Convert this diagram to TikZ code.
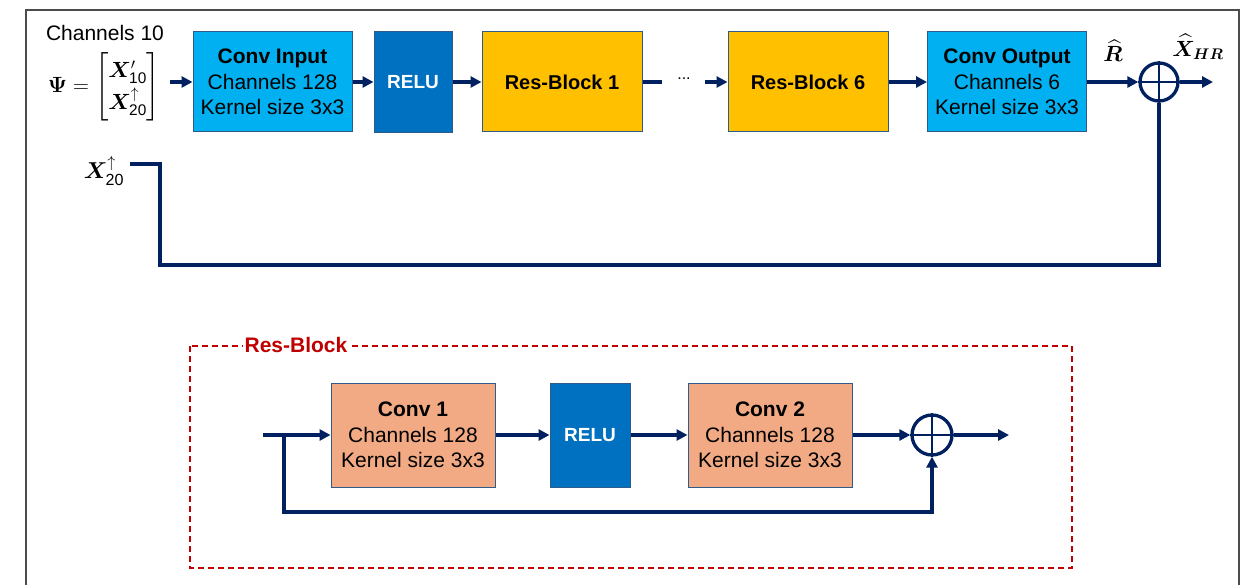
\RequirePackage{fix-cm}
\documentclass[tikz,border=0pt]{standalone}
\usepackage{amsmath,bm}
\usepackage{fontspec}
\setmainfont{Liberation Sans}
\usetikzlibrary{arrows.meta,calc}
\definecolor{lblue}{HTML}{00B0F0}
\definecolor{dblue}{HTML}{0070C0}
\definecolor{yel}{HTML}{FFC000}
\definecolor{salmon}{HTML}{F2AA84}
\definecolor{navy}{HTML}{002060}
\definecolor{bord}{HTML}{2E5C8A}
\definecolor{dred}{HTML}{C00000}
\newcommand\bodyfs{\fontsize{21}{25.5}\selectfont}
\newcommand\mathfs{\fontsize{20}{24}\selectfont}
\tikzset{
  blk/.style={draw=bord, line width=1pt, align=center, font=\bodyfs, inner sep=0pt},
  convbox/.style={blk, fill=lblue, minimum width=159, minimum height=100},
  relubox/.style={blk, fill=dblue, text=white, font=\fontsize{19}{23}\selectfont\bfseries, minimum width=78, minimum height=101},
  resbox/.style={blk, fill=yel, font=\fontsize{20}{24}\selectfont\bfseries, minimum width=160, minimum height=100},
  subconv/.style={blk, fill=salmon, minimum width=164, minimum height=104},
  subrelu/.style={blk, fill=dblue, text=white, font=\fontsize{19}{23}\selectfont\bfseries, minimum width=80, minimum height=104},
  conn/.style={draw=navy, line width=3.3pt},
  arr/.style={conn, -{Triangle[length=11pt,width=11pt]}},
  sumnode/.style={circle, draw=navy, line width=3.3pt, minimum size=38, inner sep=0pt},
  lbl/.style={inner sep=0pt, font=\mathfs},
}
\begin{document}
\begin{tikzpicture}[x=1pt,y=-1pt]
\useasboundingbox (0,0) rectangle (1246,585);
% outer frame
\draw[line width=1.6pt, color=black!70] (26,585) -- (26,10) -- (1239,10) -- (1239,585);

% ---------- top row ----------
\node[inner sep=0pt, font=\bodyfs] (ch10) at (105,33) {Channels 10};
\node[lbl] (psi) at (104,87) {\scalebox{1.1}{$\bm{\Psi}=\renewcommand\arraystretch{1.2}\begin{bmatrix}\bm{X}'_{\mathrm{10}}\\ \bm{X}^{\uparrow}_{\mathrm{20}}\end{bmatrix}$}};
\coordinate (in1) at (170,82);

\node[convbox] (cin) at (272.5,82) {\textbf{Conv Input}\\Channels 128\\Kernel size 3x3};
\node[relubox] (relu1) at (413,82) {RELU};
\node[resbox] (rb1) at (562,82) {Res-Block 1};
\node[inner sep=0pt, font=\fontsize{16}{18}\selectfont] (dots) at (684,79) {...};
\node[resbox] (rb6) at (808,82) {Res-Block 6};
\node[convbox] (cout) at (1007,82) {\textbf{Conv Output}\\Channels 6\\Kernel size 3x3};
\node[sumnode] (sum1) at (1159,82) {};
\draw[conn, line width=2.6pt] (sum1.north) -- (sum1.south) (sum1.west) -- (sum1.east);
\coordinate (out1) at (1213,82);

\node[lbl] (rhat) at (1113,51) {\scalebox{1.1}{$\widehat{\bm{R}}$}};
\node[lbl] (xhr) at (1198,47) {\scalebox{1.1}{$\widehat{\bm{X}}_{\bm{HR}}$}};

\draw[arr] (in1) -- (cin.west);
\draw[arr] (cin.east) -- (relu1.west);
\draw[arr] (relu1.east) -- (rb1.west);
\coordinate (d1) at (662,82);
\coordinate (d2) at (705,82);
\draw[conn] (rb1.east) -- (d1);
\draw[arr] (d2) -- (rb6.west);
\draw[arr] (rb6.east) -- (cout.west);
\draw[arr] (cout.east) -- (sum1.west);
\draw[arr] (sum1.east) -- (out1);

% skip connection
\node[lbl] (x20) at (104,171) {\scalebox{1.15}{$\bm{X}^{\uparrow}_{\mathrm{20}}$}};
\coordinate (fb0) at (130,164);
\coordinate (fb1) at (160,265);
\draw[conn] (fb0) -| (fb1) -| (sum1.south);

% ---------- Res-Block detail ----------
\draw[dred, line width=1.5pt, dash pattern=on 6pt off 4pt] (190,346) rectangle (1072,568);
\node[fill=white, inner xsep=2pt, inner ysep=0pt, text=dred, font=\fontsize{21}{24}\selectfont\bfseries] (rblbl) at (296,345) {Res-Block};

\node[subconv] (c1) at (413,435) {\textbf{Conv 1}\\Channels 128\\Kernel size 3x3};
\node[subrelu] (relu2) at (590,435) {RELU};
\node[subconv] (c2) at (770,435) {\textbf{Conv 2}\\Channels 128\\Kernel size 3x3};
\node[sumnode, minimum size=40] (sum2) at (932,435) {};
\draw[conn, line width=2.6pt] (sum2.north) -- (sum2.south) (sum2.west) -- (sum2.east);

\coordinate (in2) at (263,435);
\coordinate (br) at (284,435);
\coordinate (bl) at (284,512);
\coordinate (out2) at (1009,435);
\draw[arr] (in2) -- (c1.west);
\draw[arr] (c1.east) -- (relu2.west);
\draw[arr] (relu2.east) -- (c2.west);
\draw[arr] (c2.east) -- (sum2.west);
\draw[arr] (sum2.east) -- (out2);
\draw[arr] (br) -- (bl) -| (sum2.south);
\end{tikzpicture}
\end{document}
